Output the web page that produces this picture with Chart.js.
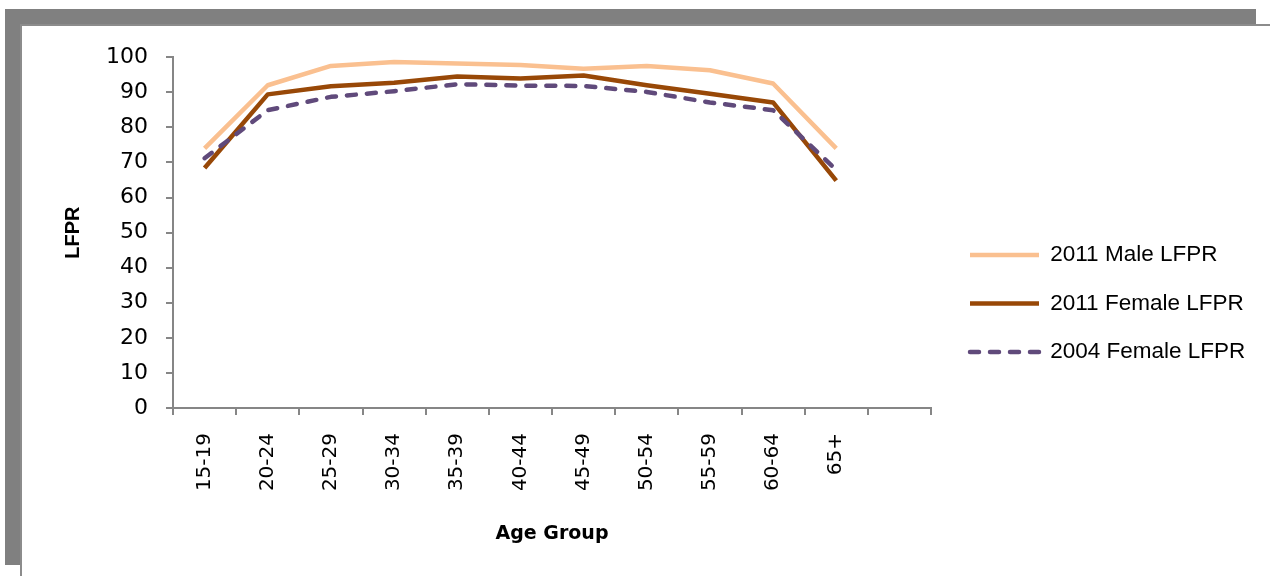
<!DOCTYPE html>
<html>
<head>
<meta charset="utf-8">
<title>LFPR by Age Group</title>
<script src="https://cdn.jsdelivr.net/npm/chart.js@4/dist/chart.umd.min.js"></script>
<style>
  html, body { margin: 0; padding: 0; background: #fff; overflow: hidden; }
  body { width: 1270px; height: 576px; position: relative; }
  /* grey frame behind the chart, as in the source document */
  .frame { position: absolute; left: 5px; top: 9px; width: 1251px; height: 556px; background: #808080; }
  .wrap { position: absolute; left: 20px; top: 24px; width: 1250px; height: 552px;
          border-left: 2px solid #8c8c8c; border-top: 2px solid #8c8c8c; background: #fff; }
  .box { position: absolute; left: 0; top: 0; width: 1248px; height: 550px; }
</style>
</head>
<body>
<div class="frame"></div>
<div class="wrap"><div class="box"><canvas id="lfpr"></canvas></div></div>
<script>
/* ---------- data ---------- */
var ageGroups = ['15-19', '20-24', '25-29', '30-34', '35-39', '40-44', '45-49', '50-54', '55-59', '60-64', '65+', ''];
var male2011   = [74.0, 92.0, 97.5, 98.6, 98.2, 97.8, 96.7, 97.5, 96.3, 92.5, 74.0, null];
var female2011 = [68.4, 89.4, 91.7, 92.7, 94.5, 93.9, 94.8, 92.0, 89.6, 87.1, 64.8, null];
var female2004 = [71.2, 84.9, 88.7, 90.3, 92.3, 91.9, 91.8, 90.1, 87.1, 84.9, 67.9, null];
var yMin = 0, yMax = 100, yStep = 10;

var AXIS = '#868686';

/* legend sits a little further right / higher than Chart.js puts it */
var legendNudge = {
  id: 'legendNudge',
  afterLayout: function (chart) {
    var lg = chart.legend;
    if (!lg) return;
    lg.left += 13; lg.right += 13;
    lg.top -= 12; lg.bottom -= 12;
  }
};

new Chart(document.getElementById('lfpr'), {
  type: 'line',
  data: {
    labels: ageGroups,
    datasets: [
      { label: '2011 Male LFPR', data: male2011, borderColor: '#FAC090', backgroundColor: '#FAC090',
        borderWidth: 4.5, order: 3 },
      { label: '2011 Female LFPR', data: female2011, borderColor: '#984807', backgroundColor: '#984807',
        borderWidth: 4.5, order: 2 },
      { label: '2004 Female LFPR', data: female2004, borderColor: '#604A7B', backgroundColor: '#604A7B',
        borderWidth: 4.5, borderDash: [9, 11], borderCapStyle: 'round', order: 1 }
    ]
  },
  options: {
    responsive: true,
    maintainAspectRatio: false,
    animation: false,
    layout: { padding: { top: 29, right: 36, bottom: 0, left: 0 } },
    elements: {
      point: { radius: 0, hoverRadius: 0 },
      line: { tension: 0, borderJoinStyle: 'round', fill: false }
    },
    plugins: {
      tooltip: { enabled: false },
      legend: {
        position: 'right',
        labels: {
          usePointStyle: true,
          pointStyle: 'line',
          pointStyleWidth: 69,
          padding: 26,
          color: '#000',
          font: { family: "'Liberation Sans', Arial, sans-serif", size: 22.5 },
          sort: function (a, b) { return a.datasetIndex - b.datasetIndex; },
          // point-style items lose the dataset's dash, so copy the line style back in
          generateLabels: function (chart) {
            var items = Chart.defaults.plugins.legend.labels.generateLabels(chart);
            items.forEach(function (it) {
              var ds = chart.data.datasets[it.datasetIndex];
              it.lineDash = ds.borderDash || [];
              it.lineWidth = ds.borderWidth;
              it.lineCap = ds.borderCapStyle || 'butt';
              it.strokeStyle = ds.borderColor;
            });
            return items;
          }
        }
      }
    },
    scales: {
      x: {
        offset: true,
        grid: { offset: true, drawOnChartArea: false, drawTicks: true, tickLength: 7, color: AXIS, lineWidth: 2 },
        border: { display: true, color: AXIS, width: 2 },
        ticks: { autoSkip: false, minRotation: 90, maxRotation: 90, padding: 18, color: '#000',
                 font: { family: "'DejaVu Sans', sans-serif", size: 20, lineHeight: 1.6 } },
        title: { display: true, text: 'Age Group', color: '#000',
                 font: { family: "'DejaVu Sans', sans-serif", size: 19, weight: 'bold' },
                 padding: { top: 0, bottom: 31 } },
        afterFit: function (s) { s.height = 168; }
      },
      y: {
        min: yMin, max: yMax,
        grid: { drawOnChartArea: false, drawTicks: true, tickLength: 7, color: AXIS, lineWidth: 2 },
        border: { display: true, color: AXIS, width: 2 },
        ticks: { stepSize: yStep, padding: 18, color: '#000',
                 font: { family: "'DejaVu Sans', sans-serif", size: 22 } },
        title: { display: true, text: 'LFPR', color: '#000',
                 font: { family: "'Liberation Sans', Arial, sans-serif", size: 20, weight: 'bold' },
                 padding: { top: 39, bottom: 0 } },
        afterFit: function (s) { s.width = 151; }
      }
    }
  },
  plugins: [legendNudge]
});
</script>
</body>
</html>
